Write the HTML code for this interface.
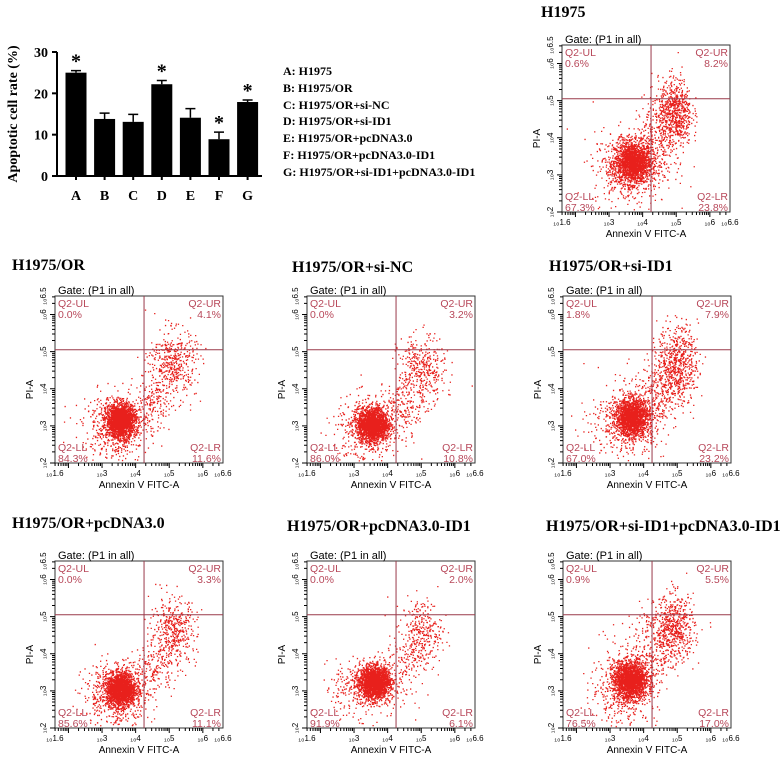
<!DOCTYPE html>
<html><head><meta charset="utf-8">
<style>
body{margin:0;background:#fff;}
#root{position:relative;width:784px;height:757px;overflow:hidden;font-family:"Liberation Serif",serif;}
.t{position:absolute;font-weight:bold;font-size:14px;color:#000;white-space:nowrap;}
svg{position:absolute;left:0;top:0;}
</style></head>
<body>
<div id="root">
<svg id="bar" width="784" height="757"></svg>
<svg id="flow" width="784" height="757"></svg>
<div class="t" style="left:283px;top:63px;font-size:12px;line-height:16.8px">
<div>A: H1975</div>
<div>B: H1975/OR</div>
<div>C: H1975/OR+si-NC</div>
<div>D: H1975/OR+si-ID1</div>
<div>E: H1975/OR+pcDNA3.0</div>
<div>F: H1975/OR+pcDNA3.0-ID1</div>
<div>G: H1975/OR+si-ID1+pcDNA3.0-ID1</div>
</div>
</div>
<script>
const categories=['A','B','C','D','E','F','G'];
const rates=[25,13.8,13.1,22.2,14.1,8.9,17.9];
const errs=[0.5,1.4,1.8,0.9,2.2,1.7,0.5];
const stars=[true,false,false,true,false,true,true];
const yTicks=[0,10,20,30];

const panelTitles=['H1975','H1975/OR','H1975/OR+si-NC','H1975/OR+si-ID1','H1975/OR+pcDNA3.0','H1975/OR+pcDNA3.0-ID1','H1975/OR+si-ID1+pcDNA3.0-ID1'];
const qUL=['0.6%','0.0%','0.0%','1.8%','0.0%','0.0%','0.9%'];
const qUR=['8.2%','4.1%','3.2%','7.9%','3.3%','2.0%','5.5%'];
const qLL=['67.3%','84.3%','86.0%','67.0%','85.6%','91.9%','76.5%'];
const qLR=['23.8%','11.6%','10.8%','23.2%','11.1%','6.1%','17.0%'];
// clusters per panel: [cx, cy, sx, sy, count] in log10 units
const clusters=[
 [[3.7,3.35,0.28,0.28,1700],[3.6,3.2,0.55,0.5,500],[4.95,4.7,0.25,0.45,650],[4.4,4.1,0.35,0.5,250]],
 [[3.55,3.15,0.22,0.22,1900],[3.4,3.0,0.5,0.45,500],[5.1,4.7,0.35,0.45,450],[4.5,3.6,0.3,0.3,150]],
 [[3.55,3.05,0.22,0.22,1900],[3.4,2.9,0.5,0.45,500],[5.0,4.5,0.35,0.45,400],[4.5,3.5,0.3,0.3,150]],
 [[3.65,3.25,0.25,0.25,1700],[3.5,3.1,0.55,0.5,500],[5.0,4.7,0.3,0.5,600],[4.4,3.9,0.35,0.5,250]],
 [[3.55,3.05,0.22,0.22,1900],[3.4,2.9,0.5,0.45,500],[5.1,4.6,0.35,0.45,450],[4.5,3.6,0.3,0.3,150]],
 [[3.6,3.25,0.22,0.2,1900],[3.4,3.1,0.5,0.4,500],[5.0,4.6,0.3,0.45,300],[4.5,3.8,0.3,0.35,100]],
 [[3.6,3.3,0.25,0.25,1800],[3.4,3.1,0.5,0.5,500],[4.9,4.7,0.3,0.45,550],[4.3,4.2,0.4,0.5,250]]
];
const xGate=4.25, yGate=5.05;

const NS='http://www.w3.org/2000/svg';
function mk(tag,attrs,parent){const e=document.createElementNS(NS,tag);for(const k in attrs)e.setAttribute(k,attrs[k]);parent.appendChild(e);return e;}

// ---- bar chart ----
const bar=document.getElementById('bar');
const bx0=57, by0=176, by30=52;
const yS=v=>by0-(v/30)*(by0-by30);
const xS=i=>76+i*28.6;
let ax=mk('path',{d:`M${bx0} ${by30} V${by0} H262`,stroke:'#000','stroke-width':2,fill:'none'},bar);

yTicks.forEach(v=>{
 mk('line',{x1:bx0-5,x2:bx0,y1:yS(v),y2:yS(v),stroke:'#000','stroke-width':2},bar);
 const t=mk('text',{x:bx0-9,y:yS(v)+5,'text-anchor':'end','font-size':14,'font-weight':'bold','font-family':'Liberation Serif'},bar);
 t.textContent=v;
 
});
const yt=mk('text',{x:0,y:0,transform:'translate(17,114) rotate(-90)','text-anchor':'middle','font-size':14,'font-weight':'bold','font-family':'Liberation Serif'},bar);
yt.textContent='Apoptotic cell rate (%)';

categories.forEach((c,i)=>{
 const cx=xS(i),w=21;
 const r=mk('rect',{x:cx-w/2,y:yS(rates[i]),width:w,height:by0-yS(rates[i]),fill:'#000'},bar);
 
 const top=yS(rates[i]+errs[i]);
 mk('path',{d:`M${cx} ${yS(rates[i])} V${top} M${cx-5} ${top} H${cx+5}`,stroke:'#000','stroke-width':1.5},bar);
 mk('line',{x1:cx,x2:cx,y1:by0,y2:by0+4,stroke:'#000','stroke-width':2},bar);
 const t=mk('text',{x:cx,y:200,'text-anchor':'middle','font-size':14,'font-weight':'bold','font-family':'Liberation Serif'},bar);
 t.textContent=c;
 if(stars[i]){const s=mk('text',{x:cx,y:top-3,'text-anchor':'middle','font-size':20,'font-weight':'bold','font-family':'Liberation Serif'},bar);
  s.textContent='*';}
});

// ---- flow panels ----
const flow=document.getElementById('flow');
const boxes=[[562,45],[55,296],[307,296],[563,296],[55,561],[307,561],[563,561]];
const titlePos=[[541,17],[12,270],[292,272],[549,271],[12,528],[287,531],[546,531]];
const W=168,H=167;
let seed=12345;
function rnd(){seed=(seed*1103515245+12345)%2147483648;return (seed+0.5)/2147483648;}
function gauss(){return Math.sqrt(-2*Math.log(rnd()))*Math.cos(2*Math.PI*rnd());}
const red='#b8485a';
boxes.forEach((b,p)=>{
 const [x0,y0]=b;
 const g=mk('g',{},flow);
 
 const px=v=>x0+(v-1.6)/5*W, py=v=>y0+H-(v-2)/4.5*H;
 const tt=mk('text',{x:titlePos[p][0],y:titlePos[p][1],'font-size':16,'font-weight':'bold','font-family':'Liberation Serif'},g);
 tt.textContent=panelTitles[p];
 let d='';
 clusters[p].forEach(c=>{for(let k=0;k<c[4];k++){
  const vx=c[0]+gauss()*c[2], vy=c[1]+gauss()*c[3];
  if(vx<1.7||vx>6.5||vy<2.05||vy>6.4)continue;
  d+=`M${px(vx).toFixed(1)} ${py(vy).toFixed(1)}h1.3v1.3h-1.3z`;}});
 const pts=mk('path',{d:d,fill:'#e8201c'},g);
 
 mk('rect',{x:x0,y:y0,width:W,height:H,fill:'none',stroke:'#333','stroke-width':1},g);
 const gl=mk('path',{d:`M${px(xGate)} ${y0} V${y0+H} M${x0} ${py(yGate)} H${x0+W}`,stroke:'#9a3a4a','stroke-width':1},g);
 
 let td='';
 for(let dd=1;dd<7;dd++)for(let m=1;m<10;m++){const v=dd+Math.log10(m);
  if(v>=1.6&&v<=6.6){const L=m==1?5:3;td+=`M${px(v)} ${y0+H} v${L}`;}
  if(v>=2&&v<=6.5){const L=m==1?5:3;td+=`M${x0} ${py(v)} h${-L}`;}}
 mk('path',{d:td,stroke:'#000','stroke-width':1},g);
 [1.6,3,4,5,6,6.6].forEach(v=>{const t=mk('text',{x:px(v),y:y0+H+13,'text-anchor':'middle','font-size':8,'font-family':'Liberation Sans',fill:'#000'},g);t.textContent='\u2081\u2080'+v;});
 [2,3,4,5,6,6.5].forEach(v=>{const t=mk('text',{x:0,y:0,transform:`translate(${x0-9},${py(v)}) rotate(-90)`,'text-anchor':'middle','font-size':8,'font-family':'Liberation Sans'},g);t.textContent='\u2081\u2080'+v;});
 const xl=mk('text',{x:x0+W/2,y:y0+H+25,'text-anchor':'middle','font-size':10,'font-family':'Liberation Sans'},g);xl.textContent='Annexin V FITC-A';
 const yl=mk('text',{x:0,y:0,transform:`translate(${x0-22},${y0+H/2+10}) rotate(-90)`,'text-anchor':'middle','font-size':10,'font-family':'Liberation Sans'},g);yl.textContent='PI-A';
 const gt=mk('text',{x:x0+3,y:y0-2,'font-size':11,'font-family':'Liberation Sans'},g);gt.textContent='Gate: (P1 in all)';
 const q=(txt,x,y,anc,name)=>{const t=mk('text',{x:x,y:y,'text-anchor':anc,'font-size':10.5,'font-family':'Liberation Sans',fill:red},g);t.textContent=txt;};
 q('Q2-UL',x0+3,y0+11,'start','q-ul-name');q(qUL[p],x0+3,y0+22,'start','q-ul-value');
 q('Q2-UR',x0+W-2,y0+11,'end','q-ur-name');q(qUR[p],x0+W-2,y0+22,'end','q-ur-value');
 q('Q2-LL',x0+3,y0+H-12,'start','q-ll-name');q(qLL[p],x0+3,y0+H-1,'start','q-ll-value');
 q('Q2-LR',x0+W-2,y0+H-12,'end','q-lr-name');q(qLR[p],x0+W-2,y0+H-1,'end','q-lr-value');
});
</script>
</body></html>
